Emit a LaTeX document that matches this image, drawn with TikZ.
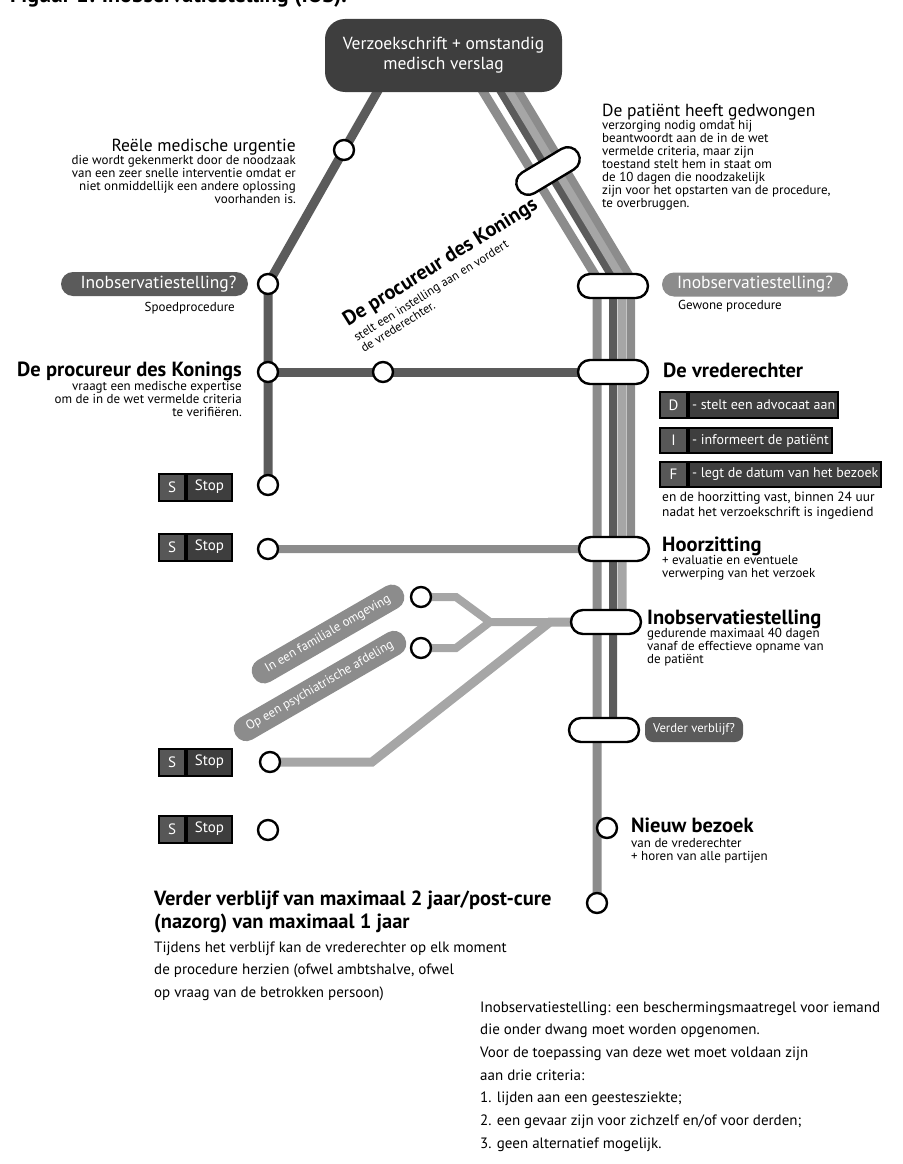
\documentclass[tikz,border=0pt]{standalone}
\usepackage{fontspec}
\setmainfont{PT Sans}
\usetikzlibrary{positioning}
\pgfdeclarelayer{lines}
\pgfsetlayers{lines,main}

\definecolor{darkbox}{HTML}{3E3E3E}
\definecolor{darkline}{HTML}{5B5B5B}
\definecolor{midline}{HTML}{8C8C8C}
\definecolor{lightline}{HTML}{A6A6A6}
\definecolor{cellgray}{HTML}{575757}

% rows of text whose base is the first line
\newcommand{\textrows}[2]{\begin{tabular}[t]{@{}#1@{}}#2\end{tabular}}

\tikzset{
  stn/.style={circle, draw, line width=2.4pt, fill=white, minimum size=20pt, inner sep=0pt},
  capsule/.style={rectangle, rounded corners=12pt, draw, line width=2.4pt, fill=white,
    minimum width=70pt, minimum height=24pt},
  pill/.style={rectangle, rounded corners=12pt, fill=#1, text=white, minimum height=24pt,
    inner xsep=8pt, font=\fontsize{17.5}{20}\selectfont},
  route/.style={draw=#1, line width=9pt},
  scell/.style={rectangle, draw=black, line width=2pt, fill=cellgray, text=white,
    minimum width=26pt, minimum height=27pt, inner sep=0pt, font=\fontsize{15}{17}\selectfont},
  tcell/.style={scell, fill=darkbox, minimum width=45pt, inner xsep=3pt},
  head/.style={inner sep=0pt, font=\fontsize{17.5}{20}\selectfont},
  bighead/.style={inner sep=0pt, font=\bfseries\fontsize{20.5}{23}\selectfont},
  small/.style={inner sep=0pt, font=\fontsize{13}{13}\selectfont},
  note/.style={inner sep=0pt, font=\fontsize{15}{22.7}\selectfont},
}

\begin{document}
\begin{tikzpicture}[x=1pt, y=-1pt]
\useasboundingbox (0,0) rectangle (902,1164);

\node[anchor=base west, inner sep=0pt, font=\bfseries\fontsize{22}{24}\selectfont] (title) at (10,3)
  {Figuur 1: Inobservatiestelling (IOS).};

% start
\node[rectangle, rounded corners=20pt, fill=darkbox, text=white, minimum width=237pt,
  minimum height=73pt, align=center, font=\fontsize{17.5}{20}\selectfont] (req) at (443.5,55.5)
  {Verzoekschrift + omstandig\\medisch verslag};

% stations
\node[stn] (urg) at (344,150) {};
\node[stn] (spoed) at (268,284) {};
\node[stn] (pk) at (268,372) {};
\node[stn] (pkmid) at (383,372) {};
\node[stn] (stop1) at (268,485) {};
\node[stn] (stop2) at (268,549) {};
\node[stn] (stop3) at (270,762) {};
\node[stn] (stop4) at (268,830) {};
\node[stn] (fam) at (421,597) {};
\node[stn] (psy) at (421,648) {};
\node[stn] (nieuw) at (607,828) {};
\node[stn] (eind) at (597,903) {};

\node[capsule, rotate=31] (dwang) at (548,171) {};
\node[capsule] (gewoon) at (613,286) {};
\node[capsule] (vred) at (613,372) {};
\node[capsule] (hoor) at (614,549) {};
\node[capsule] (inob) at (606,622) {};
\node[capsule] (verder) at (604,730) {};

% bends of the lines
\coordinate (topA) at (476,80);
\coordinate (topB) at (494,80);
\coordinate (topC) at (503,80);
\coordinate (topD) at (512,80);
\coordinate (bendA) at (597,278);
\coordinate (bendB) at (613,278);
\coordinate (bendC) at (622,278);
\coordinate (bendD) at (631,278);
\coordinate (split1) at (550,622);
\coordinate (split2) at (490,622);
\coordinate (kinkS) at (372,762);
\coordinate (kinkF) at (456,597);
\coordinate (kinkP) at (456,648);

\begin{pgfonlayer}{lines}
\draw[route=darkline] (384,80) -- (urg.center) -- (spoed.center) -- (pk.center) -- (stop1.center);
\draw[route=darkline] (pk.center) -- (pkmid.center) -- (vred.center);
\draw[route=midline] (topA) -- (bendA) -- (eind.center);
\draw[route=darkline, line width=8pt] (topB) -- (bendB) -- ([xshift=9pt]verder.center);
\draw[route=lightline] (topC) -- (bendC) -- ([xshift=16pt]inob.center) -- (split1) -- (kinkS) -- (stop3.center);
\draw[route=lightline, line width=8pt] (split1) -- (split2) -- (kinkF) -- (fam.center);
\draw[route=lightline, line width=8pt] (split2) -- (kinkP) -- (psy.center);
\draw[route=midline, line width=8pt] (topD) -- (bendD) -- ([xshift=17pt]hoor.center) -- (stop2.center);
\end{pgfonlayer}

% left side
\node[head, anchor=base east] (urgt) at (296,151) {Reële medische urgentie};
\node[small, anchor=base east] (urgb) at (296,164)
  {\textrows{r}{die wordt gekenmerkt door de noodzaak\\van een zeer snelle interventie omdat er\\niet onmiddellijk een andere oplossing\\voorhanden is.}};
\node[pill=darkline, minimum width=187pt] (spq) at (154.5,284) {\hspace{8pt}Inobservatiestelling?};
\node[small, anchor=base east] (spt) at (235,311) {Spoedprocedure};
\node[bighead, anchor=base east] (pkt) at (242,376) {De procureur des Konings};
\node[small, anchor=base east] (pkb) at (242,390)
  {\textrows{r}{vraagt een medische expertise\\om de in de wet vermelde criteria\\te verifiëren.}};

\foreach \y [count=\i] in {487,547,762,829} {
  \node[scell] (s\i) at (172,\y) {S};
  \node[tcell, right=0pt of s\i] (t\i) {Stop};
}

% middle
\node[bighead, rotate=32, anchor=base west] (pkr) at (348,327) {De procureur des Konings};
\node[small, rotate=32, anchor=base west, font=\fontsize{12.4}{13}\selectfont] (pkrb) at (357,342)
  {\textrows{l}{stelt een instelling aan en vordert\\de vrederechter.}};
\node[pill=midline, rotate=30, minimum width=172pt, minimum height=25pt,
  font=\fontsize{12.8}{14}\selectfont] (famq) at (328,634) {In een familiale omgeving};
\node[pill=midline, rotate=30, minimum width=195pt, minimum height=25pt,
  font=\fontsize{12.8}{14}\selectfont] (psyq) at (320,686) {Op een psychiatrische afdeling};

% right side
\node[head, anchor=base west] (dwt) at (602,116) {De patiënt heeft gedwongen};
\node[small, anchor=base west] (dwb) at (602,129)
  {\textrows{l}{verzorging nodig omdat hij\\beantwoordt aan de in de wet\\vermelde criteria, maar zijn\\toestand stelt hem in staat om\\de 10 dagen die noodzakelijk\\zijn voor het opstarten van de procedure,\\te overbruggen.}};
\node[pill=midline, minimum width=186pt] (gwq) at (755,284.5) {Inobservatiestelling?};
\node[small, anchor=base west] (gwt) at (678,309) {Gewone procedure};

\node[bighead, anchor=base west] (vrt) at (663,377) {De vrederechter};
\node[scell, minimum width=27pt, minimum height=26pt] (dl) at (673.5,405) {D};
\node[tcell, right=0pt of dl, minimum height=26pt, font=\fontsize{14}{16}\selectfont] (dr) {- stelt een advocaat aan};
\node[scell, minimum width=27pt, minimum height=25pt] (il) at (673.5,440.5) {I};
\node[tcell, right=0pt of il, minimum height=25pt, font=\fontsize{14}{16}\selectfont] (ir) {- informeert de patiënt};
\node[scell, minimum width=27pt, minimum height=25pt] (fl) at (673.5,474.5) {F};
\node[tcell, right=0pt of fl, minimum height=25pt, font=\fontsize{14}{16}\selectfont] (fr) {- legt de datum van het bezoek};
\node[small, anchor=base west, font=\fontsize{13.4}{15}\selectfont] (fb) at (662,501)
  {\textrows{l}{en de hoorzitting vast, binnen 24 uur\\nadat het verzoekschrift is ingediend}};

\node[bighead, anchor=base west] (hzt) at (662,551) {Hoorzitting};
\node[small, anchor=base west] (hzb) at (662,564)
  {\textrows{l}{+ evaluatie en eventuele\\verwerping van het verzoek}};
\node[bighead, anchor=base west] (iot) at (647,624) {Inobservatiestelling};
\node[small, anchor=base west] (iob) at (647,637)
  {\textrows{l}{gedurende maximaal 40 dagen\\vanaf de effectieve opname van\\de patiënt}};
\node[pill=darkline, rounded corners=8pt, minimum width=98pt, minimum height=25pt,
  font=\fontsize{12.7}{14}\selectfont] (vvq) at (694,729.5) {Verder verblijf?};
\node[bighead, anchor=base west] (nbt) at (631,832) {Nieuw bezoek};
\node[small, anchor=base west] (nbb) at (631,847)
  {\textrows{l}{van de vrederechter\\+ horen van alle partijen}};

% bottom
\node[bighead, anchor=base west] (vvt) at (154,905)
  {\textrows{l}{Verder verblijf van maximaal 2 jaar/post-cure\\(nazorg) van maximaal 1 jaar}};
\node[note, anchor=base west] (vvb) at (154,952)
  {\textrows{l}{Tijdens het verblijf kan de vrederechter op elk moment\\de procedure herzien (ofwel ambtshalve, ofwel\\op vraag van de betrokken persoon)}};
\node[note, anchor=base west] (crit) at (480,1012)
  {\textrows{l}{Inobservatiestelling: een beschermingsmaatregel voor iemand\\die onder dwang moet worden opgenomen.\\Voor de toepassing van deze wet moet voldaan zijn\\aan drie criteria:\\1. lijden aan een geestesziekte;\\2. een gevaar zijn voor zichzelf en/of voor derden;\\3. geen alternatief mogelijk.}};
\end{tikzpicture}
\end{document}
